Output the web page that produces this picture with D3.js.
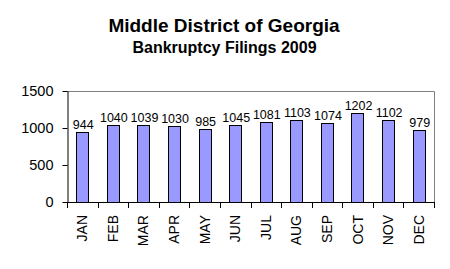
<!DOCTYPE html>
<html>
<head>
<meta charset="utf-8">
<script src="https://cdn.jsdelivr.net/npm/d3@7"></script>
<style>
  body { margin: 0; background: #fff; }
  svg { display: block; font-family: "Liberation Sans", Arial, sans-serif; }
</style>
</head>
<body>
<div id="chart"></div>
<script>
const months = ['JAN', 'FEB', 'MAR', 'APR', 'MAY', 'JUN', 'JUL', 'AUG', 'SEP', 'OCT', 'NOV', 'DEC'];
const filings = [944, 1040, 1039, 1030, 985, 1045, 1081, 1103, 1074, 1202, 1102, 979];
const yTicks = [0, 500, 1000, 1500];

const width = 450;
const height = 269;
const plot = { left: 67, right: 434, top: 91, bottom: 202 };

const svg = d3.select('#chart')
  .append('svg')
  .attr('width', width)
  .attr('height', height);

svg.append('text')
  .attr('x', 224).attr('y', 32)
  .attr('text-anchor', 'middle')
  .style('font-size', '19px').style('font-weight', 'bold')
  .text('Middle District of Georgia');

svg.append('text')
  .attr('x', 224.5).attr('y', 53)
  .attr('text-anchor', 'middle')
  .style('font-size', '16px').style('font-weight', 'bold')
  .text('Bankruptcy Filings 2009');

const x = d3.scaleBand()
  .domain(months)
  .range([plot.left, plot.right])
  .paddingInner(0.6)
  .paddingOuter(0.3);

const y = d3.scaleLinear()
  .domain([0, 1500])
  .range([plot.bottom, plot.top]);

// frame (top & right in gray)
svg.append('path')
  .attr('d', `M${plot.left},${plot.top + 0.5}H${plot.right + 0.5}V${plot.bottom}`)
  .attr('fill', 'none')
  .attr('stroke', '#808080');

// bars
svg.append('g')
  .selectAll('rect')
  .data(filings)
  .join('rect')
  .attr('x', (d, i) => Math.round(x(months[i])) + 0.5)
  .attr('y', d => Math.round(y(d)) + 0.5)
  .attr('width', Math.round(x.bandwidth()))
  .attr('height', d => Math.round(plot.bottom) - Math.round(y(d)))
  .attr('fill', '#9999ff')
  .attr('stroke', '#000');

// data labels
svg.append('g')
  .selectAll('text')
  .data(filings)
  .join('text')
  .attr('x', (d, i) => x(months[i]) + x.bandwidth() / 2 + 1)
  .attr('y', d => y(d) - 3)
  .attr('text-anchor', 'middle')
  .style('font-size', '12.5px')
  .text(d => d);

// y axis
const yAxis = svg.append('g')
  .attr('transform', `translate(${plot.left + 0.5},0)`)
  .call(d3.axisLeft(y).tickValues(yTicks).tickFormat(d3.format('d'))
    .tickSize(5).tickSizeOuter(0).tickPadding(9));
yAxis.selectAll('line, path').attr('stroke', '#000');
yAxis.selectAll('text').style('font-size', '14.5px').style('font-family', '"Liberation Sans", Arial, sans-serif').attr('fill', '#000');

// x axis: ticks at category boundaries
const step = (plot.right - plot.left) / months.length;
svg.append('line')
  .attr('x1', plot.left).attr('x2', plot.right + 1)
  .attr('y1', plot.bottom + 0.5).attr('y2', plot.bottom + 0.5)
  .attr('stroke', '#000');
svg.append('g')
  .selectAll('line')
  .data(d3.range(months.length + 1))
  .join('line')
  .attr('x1', i => Math.round(plot.left + i * step) + 0.5)
  .attr('x2', i => Math.round(plot.left + i * step) + 0.5)
  .attr('y1', plot.bottom)
  .attr('y2', plot.bottom + 6)
  .attr('stroke', '#000');

svg.append('g')
  .selectAll('text')
  .data(months)
  .join('text')
  .attr('transform', d => `translate(${x(d) + x.bandwidth() / 2 + 5},${plot.bottom + 13}) rotate(-90)`)
  .attr('text-anchor', 'end')
  .style('font-size', '14px')
  .text(d => d);
</script>
</body>
</html>
